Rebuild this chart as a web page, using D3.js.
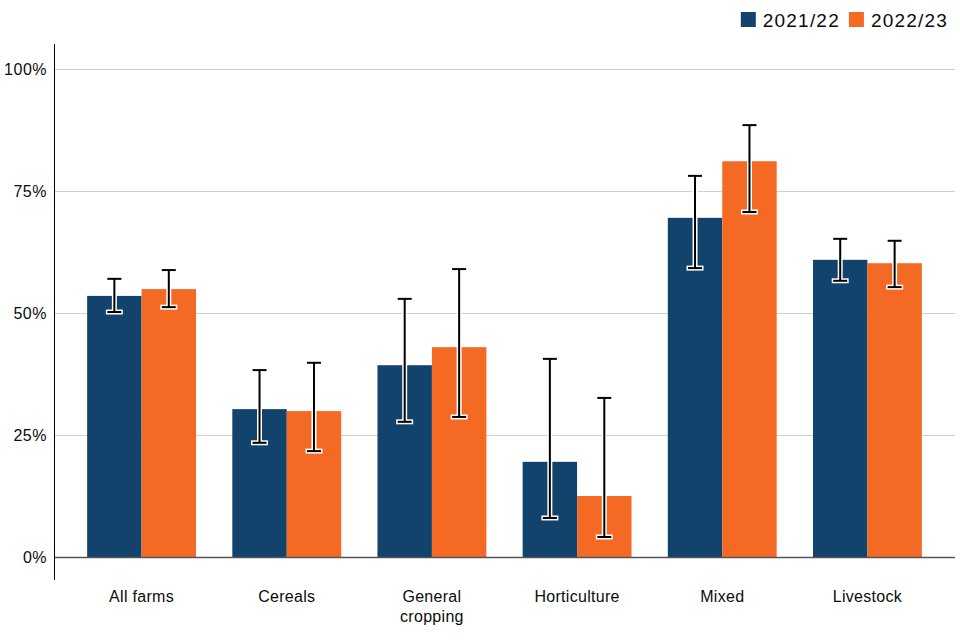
<!DOCTYPE html>
<html>
<head>
<meta charset="utf-8">
<script src="https://cdn.jsdelivr.net/npm/d3@7"></script>
<style>
  body { margin: 0; background: #fff; }
  svg text { font-family: "Liberation Sans", Arial, sans-serif; fill: #0b0c0c; }
</style>
</head>
<body>
<svg width="960" height="640"></svg>
<script>
var categories = ['All farms', 'Cereals', 'General cropping', 'Horticulture', 'Mixed', 'Livestock'];
var series = ['2021/22', '2022/23'];
var colors = ['#12436D', '#F46A25'];
var values2122 = [53.5, 30.3, 39.3, 19.5, 69.5, 60.9];
var values2223 = [54.9, 29.9, 43.0, 12.5, 81.1, 60.2];
var low2122 = [50.2, 23.4, 27.7, 8.0, 59.2, 56.6];
var high2122 = [57.0, 38.3, 52.9, 40.6, 78.1, 65.2];
var low2223 = [51.2, 21.7, 28.7, 4.1, 70.7, 55.3];
var high2223 = [58.8, 39.8, 59.0, 32.6, 88.5, 64.8];
var yTicks = [0, 25, 50, 75, 100];

var svg = d3.select('svg');
var plotLeft = 54, plotRight = 955, plotTop = 44, plotBottom = 557;

var x = d3.scaleBand().domain(categories).range([69, 940]).paddingInner(0.25).paddingOuter(0.125);
var x1 = d3.scaleBand().domain(series).range([0, x.bandwidth()]);
var y = d3.scaleLinear().domain([0, 100]).range([plotBottom, 69]);

var data = [];
categories.forEach(function (c, i) {
  data.push({ cat: c, s: 0, v: values2122[i], lo: low2122[i], hi: high2122[i] });
  data.push({ cat: c, s: 1, v: values2223[i], lo: low2223[i], hi: high2223[i] });
});

// gridlines
svg.append('g')
  .selectAll('line')
  .data(yTicks.slice(1))
  .enter()
  .append('line')
  .attr('x1', plotLeft)
  .attr('x2', plotRight)
  .attr('y1', (d) => y(d) + 0.5)
  .attr('y2', (d) => y(d) + 0.5)
  .attr('stroke', '#d0d0d0')
  .attr('stroke-width', 1);

// y labels
svg.append('g')
  .selectAll('text')
  .data(yTicks)
  .enter()
  .append('text')
  .attr('x', 47)
  .attr('y', (d) => y(d))
  .attr('dy', '0.35em')
  .attr('text-anchor', 'end')
  .attr('font-size', 16)
  .attr('letter-spacing', 0.5)
  .text((d) => d + '%');

// bars
svg.append('g')
  .selectAll('rect')
  .data(data)
  .enter()
  .append('rect')
  .attr('x', (d) => x(d.cat) + x1(series[d.s]))
  .attr('y', (d) => y(d.v))
  .attr('width', x1.bandwidth())
  .attr('height', (d) => plotBottom - y(d.v))
  .attr('fill', (d) => colors[d.s]);

// error bars: white halo then black
var cx = (d) => x(d.cat) + x1(series[d.s]) + x1.bandwidth() / 2;
var capW = 7;
[['#fff', 5], ['#000', 2]].forEach(function (st) {
  var g = svg.append('g');
  g.selectAll('line.v')
    .data(data)
    .enter()
    .append('line')
    .attr('x1', cx).attr('x2', cx)
    .attr('y1', (d) => y(d.hi)).attr('y2', (d) => y(d.lo))
    .attr('stroke', st[0]).attr('stroke-width', st[1]);
  ['hi', 'lo'].forEach(function (k) {
    g.selectAll('line.' + k)
      .data(data)
      .enter()
      .append('line')
      .attr('x1', (d) => cx(d) - capW - (st[1] - 2) / 2)
      .attr('x2', (d) => cx(d) + capW + (st[1] - 2) / 2)
      .attr('y1', (d) => y(d[k])).attr('y2', (d) => y(d[k]))
      .attr('stroke', st[0]).attr('stroke-width', st[1]);
  });
});

// baseline and y axis line
svg.append('line')
  .attr('x1', plotLeft).attr('x2', plotRight)
  .attr('y1', plotBottom + 0.5).attr('y2', plotBottom + 0.5)
  .attr('stroke', '#555').attr('stroke-width', 1.5);
svg.append('line')
  .attr('x1', plotLeft + 0.5).attr('x2', plotLeft + 0.5)
  .attr('y1', plotTop).attr('y2', 580)
  .attr('stroke', '#000').attr('stroke-width', 1);

// x labels
var xl = svg.append('g')
  .selectAll('text')
  .data(categories)
  .enter()
  .append('text')
  .attr('x', (d) => x(d) + x.bandwidth() / 2)
  .attr('y', 602)
  .attr('text-anchor', 'middle')
  .attr('font-size', 16)
  .attr('letter-spacing', 0.3);
xl.each(function (d) {
  var words = d === 'General cropping' ? ['General', 'cropping'] : [d];
  var t = d3.select(this);
  words.forEach(function (w, i) {
    t.append('tspan')
      .attr('x', x(d) + x.bandwidth() / 2)
      .attr('dy', i === 0 ? 0 : 20)
      .text(w);
  });
});

// legend, laid out from the right edge
var legend = svg.append('g');
var lxRight = 948;
for (var i = series.length - 1; i >= 0; i--) {
  var t = legend.append('text')
    .attr('y', 27)
    .attr('font-size', 19)
    .attr('letter-spacing', 1.2)
    .text(series[i]);
  var w = t.node().getComputedTextLength();
  t.attr('x', lxRight - w);
  legend.append('rect')
    .attr('x', lxRight - w - 22).attr('y', 12)
    .attr('width', 15).attr('height', 15)
    .attr('fill', colors[i]);
  lxRight = lxRight - w - 31;
}
</script>
</body>
</html>
